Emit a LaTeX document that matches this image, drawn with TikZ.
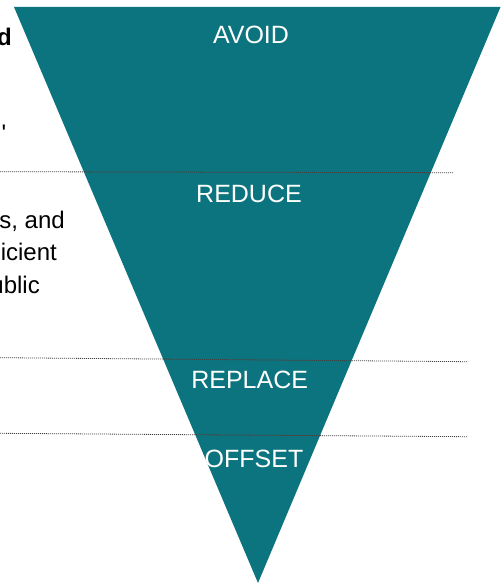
\documentclass[tikz,border=0pt]{standalone}
\usepackage{fontspec}
\setmainfont{Liberation Sans}
\definecolor{hierteal}{RGB}{11,116,126}
\usepackage{tikz}

\begin{document}
\begin{tikzpicture}[x=1pt,y=-1pt,
			level/.style={text=white,font=\fontsize{25}{30}\selectfont,anchor=base,inner sep=0pt},
			side/.style={text=black,font=\fontsize{24}{32}\selectfont,anchor=base east,inner sep=0pt},
			rule/.style={black!75,line width=0.8pt,dash pattern=on 1pt off 1pt}]
			\useasboundingbox (0,0) rectangle (501,583);
			\clip (0,0) rectangle (501,583);
			\fill[hierteal] (14,7) -- (500.5,7) -- (258,583) -- cycle;
			\coordinate (r1l) at (0,171.7);
			\coordinate (r1r) at (454,172.7);
			\coordinate (r2l) at (0,357.7);
			\coordinate (r2r) at (468,361.7);
			\coordinate (r3l) at (0,433.3);
			\coordinate (r3r) at (467,436.7);
			\draw[rule] (r1l) -- (r1r);
			\draw[rule] (r2l) -- (r2r);
			\draw[rule] (r3l) -- (r3r);
			\node[level] (avoid) at (251,44) {AVOID};
			\node[level] (reduce) at (249,202.7) {REDUCE};
			\node[level] (replace) at (249.7,388) {REPLACE};
			\node[level] (offset) at (254,467.7) {OFFSET};
			\node[side,font=\fontsize{24}{32}\selectfont\bfseries] (t1) at (12,46) {d};
			\node[side] (t2) at (6.5,142) {\textquotesingle};
			\node[side] (t3) at (65,228) {s, and};
			\node[side] (t4) at (57,260.5) {icient};
			\node[side] (t5) at (40,293) {ublic};
		\end{tikzpicture}
\end{document}
